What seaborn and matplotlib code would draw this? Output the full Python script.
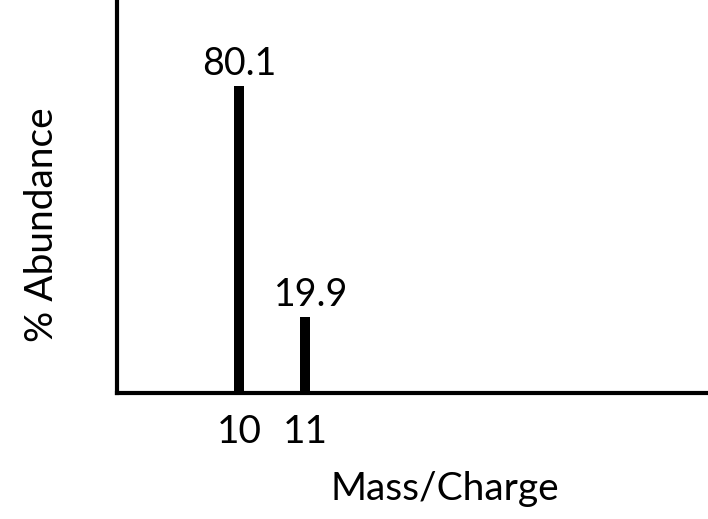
import matplotlib
matplotlib.use("Agg")
import matplotlib.pyplot as plt
import seaborn as sns

mass_charge = [10, 11]
abundance = [80.1, 19.9]
value_labels = ["80.1", "19.9"]
tick_labels = ["10", "11"]

sns.set_theme(style="white")
plt.rcParams['font.family'] = ['Lato', 'DejaVu Sans']

fig = plt.figure(figsize=(7.08, 5.19), dpi=100)
ax = fig.add_axes([117/708, 1 - 393/519, 1 - 117/708, 393/519])

sns.barplot(x=mass_charge, y=abundance, native_scale=True, width=0.15,
            color="black", saturation=1, ax=ax, linewidth=0)

ax.set_xlim(8.15, 17.1)
ax.set_ylim(0, 102.5)

for xv, yv, lab, dx in zip(mass_charge, abundance, value_labels, [0, 4]):
    ax.annotate(lab, (xv, yv), xytext=(dx, 3), textcoords="offset points",
                ha="center", va="bottom", fontsize=27, color="black")

ax.set_xticks(mass_charge)
ax.set_xticklabels(tick_labels, fontsize=28)
ax.set_yticks([])
ax.tick_params(axis="x", length=0, pad=15, colors="black")

for s in ["top", "right"]:
    ax.spines[s].set_visible(False)
for s in ["left", "bottom"]:
    ax.spines[s].set_linewidth(3)
    ax.spines[s].set_color("black")

ax.set_xlabel("Mass/Charge", fontsize=28, color="black")
ax.xaxis.set_label_coords((445 - 117) / (708 - 117), -(471 - 393) / 393)
ax.set_ylabel("% Abundance", fontsize=28, color="black")
ax.yaxis.set_label_coords(-(117 - 60) / (708 - 117), (393 - 225) / 393)

fig.savefig("out.png", dpi=100)
